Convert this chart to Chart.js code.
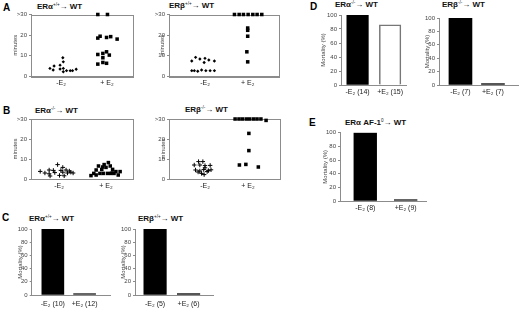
<!DOCTYPE html>
<html>
<head>
<meta charset="utf-8">
<script src="https://cdn.jsdelivr.net/npm/chart.js@4.4.0/dist/chart.umd.min.js"></script>
<style>
  body { margin: 0; width: 520px; height: 310px; background: #fff; position: relative; overflow: hidden;
         font-family: "Liberation Sans", Arial, sans-serif; }
  canvas { position: absolute; }
  .pl { position: absolute; font-weight: bold; font-size: 10px; line-height: 1; color: #000; }
  .tt { position: absolute; font-weight: bold; font-size: 8px; line-height: 1; color: #111; white-space: nowrap; }
  .tt sup { font-size: 4.5px; font-weight: normal; vertical-align: 3px; }
</style>
</head>
<body>
<div class="pl" style="left:3px;top:3px">A</div>
<div class="tt" style="left:37px;top:2.5px">ERα<sup>+/+</sup>→ WT</div>
<div class="tt" style="left:169px;top:2px">ERβ<sup>+/+</sup>→ WT</div>
<div class="pl" style="left:3px;top:106px">B</div>
<div class="tt" style="left:35px;top:106.5px">ERα<sup>-/-</sup>→ WT</div>
<div class="tt" style="left:185px;top:106px">ERβ<sup>-/-</sup>→ WT</div>
<div class="pl" style="left:2px;top:213px">C</div>
<div class="tt" style="left:29px;top:214.5px">ERα<sup>+/+</sup>→ WT</div>
<div class="tt" style="left:138px;top:214.5px">ERβ<sup>+/+</sup>→ WT</div>
<div class="pl" style="left:310px;top:2px">D</div>
<div class="tt" style="left:335px;top:0.5px">ERα<sup>-/-</sup>→ WT</div>
<div class="tt" style="left:442px;top:0.5px">ERβ<sup>-/-</sup>→ WT</div>
<div class="pl" style="left:309px;top:118px">E</div>
<div class="tt" style="left:345px;top:118.5px">ERα AF-1<sup>0</sup>→ WT</div>

<script>
// ---- values ----
const scatterCats = ['-E₂', '+ E₂'];
const minuteTicks = [0, 10, 20, 30];      // top tick is shown as ">30"

// A, ERα+/+ -> WT  (minutes; jitter = horizontal spread around the group)
const aAlphaMinus    = [3.7, 2.9, 4.9, 5.3, 3.4, 8.9, 6.9, 3.7, 2.1, 2.6, 2.6, 2.6, 3.3];
const aAlphaMinusJit = [-0.24, -0.17, -0.15, -0.02, -0.02, 0.04, 0.05, 0.05, 0.05, 0.12, 0.2, 0.25, 0.33];
const aAlphaPlus     = [30, 30, 18.5, 19.4, 18.8, 19.2, 18, 10.5, 11, 11.8, 10.2, 8.9, 5.8, 6.6, 6.2];
const aAlphaPlusJit  = [-0.2, 0.01, -0.2, -0.15, -0.01, 0.08, 0.22, -0.2, -0.09, -0.01, 0.05, -0.09, -0.2, -0.09, -0.01];

// A, ERβ+/+ -> WT
const aBetaMinus     = [7.3, 9.1, 8.3, 8.6, 6.6, 7.8, 7.3, 2.6, 2.6, 2.3, 2.9, 2.6, 2.6, 2.6];
const aBetaMinusJit  = [-0.31, -0.22, -0.12, 0, -0.02, 0.09, 0.22, -0.31, -0.25, -0.17, -0.08, 0.02, 0.12, 0.22];
const aBetaPlus      = [30, 30, 30, 30, 30, 30, 30, 23.4, 22.3, 19.4, 11.8, 6.9];
const aBetaPlusJit   = [-0.31, -0.2, -0.1, 0.01, 0.12, 0.22, 0.33, 0, 0, 0, -0.02, 0];

// B, ERα-/- -> WT
const bAlphaMinus    = [3.8, 3.0, 4.5, 2.6, 1.5, 4.3, 3.2, 7.2, 1.8, 5.8, 3.4, 1.6, 4.5, 3.0, 4.0, 3.4, 3.0, 4.3];
const bAlphaMinusJit = [-0.4, -0.3, -0.21, -0.21, -0.19, -0.12, -0.09, -0.03, 0.01, 0.08, 0.08, 0.11, 0.15, 0.18, 0.22, 0.25, 0.3, 0.04];
const bAlphaPlus     = [1.7, 2.8, 4.5, 2.0, 6.5, 2.8, 4.8, 2.8, 7.2, 5.8, 2.8, 8.2, 2.8, 4.8, 2.8, 3.7, 2.0, 3.7, 6.5, 6.0, 3.0];
const bAlphaPlusJit  = [-0.32, -0.26, -0.21, -0.21, -0.16, -0.13, -0.09, -0.06, -0.04, 0, 0.03, 0.05, 0.1, 0.14, 0.17, 0.21, 0.26, 0.3, 0.09, -0.07, 0.13];

// B, ERβ-/- -> WT
const bBetaMinus     = [8.7, 8.7, 7.0, 7.0, 6.7, 6.8, 4.5, 4.0, 4.7, 3.7, 4.2, 2.8, 2.2, 3.5, 4.6, 5.6];
const bBetaMinusJit  = [-0.15, -0.05, -0.25, -0.12, 0, 0.12, -0.22, -0.12, -0.03, 0.05, 0.08, -0.08, -0.02, -0.16, 0.14, 0];
const bBetaPlus      = [30, 30, 30, 30, 30, 30, 30, 30, 29.3, 22.8, 14.2, 7.0, 7.3, 6.0];
const bBetaPlusJit   = [-0.3, -0.21, -0.13, -0.04, 0.04, 0.13, 0.21, 0.3, 0.42, 0.02, 0.02, -0.2, -0.05, 0.24];

// C, D, E  mortality (%)
const cAlphaCats = ['-E₂ (10)', '+E₂ (12)'];  const cAlphaVals = [100, 0];
const cBetaCats  = ['-E₂ (5)', '+E₂ (6)'];    const cBetaVals  = [100, 0];
const dAlphaCats = ['-E₂ (14)', '+E₂ (15)'];  const dAlphaVals = [100, 86];
const dBetaCats  = ['-E₂ (7)', '+E₂ (7)'];    const dBetaVals  = [100, 0];
const eCats      = ['-E₂ (8)', '+E₂ (9)'];    const eVals      = [100, 0];
const mortalityTicks = [0, 20, 40, 60, 80, 100];

// ---- drawing ----
Chart.defaults.font.family = '"Liberation Sans", Arial, sans-serif';
Chart.defaults.animation = false;
const GRAY = '#8c8c8c';

// full frame round the scatter plots
const boxPlugin = {
  id: 'box',
  beforeDatasetsDraw(chart, args, opts) {
    if (!opts.on) return;
    const a = chart.chartArea, ctx = chart.ctx;
    ctx.save();
    ctx.strokeStyle = GRAY;
    ctx.lineWidth = 1;
    ctx.strokeRect(Math.round(a.left) + 0.5, Math.round(a.top) + 0.5,
                   Math.round(a.right - a.left), Math.round(a.bottom - a.top));
    ctx.restore();
  }
};

function mount(cv) {
  const el = document.createElement('canvas');
  el.width = cv[2]; el.height = cv[3];
  el.style.left = cv[0] + 'px'; el.style.top = cv[1] + 'px';
  el.style.width = cv[2] + 'px'; el.style.height = cv[3] + 'px';
  document.body.appendChild(el);
  return el;
}

// cv = canvas [left, top, w, h]; area = plot box [left, top, right, bottom] in page px
function panel(p) {
  const { cv, area } = p;
  const yw = area[0] - cv[0], xh = cv[1] + cv[3] - area[3];
  const yTicks = p.yTicks;
  return new Chart(mount(cv), {
    type: p.type,
    data: { datasets: p.datasets },
    options: {
      responsive: false,
      layout: { autoPadding: false, padding: { left: 0, top: area[1] - cv[1], right: cv[0] + cv[2] - area[2], bottom: 0 } },
      plugins: { legend: { display: false }, tooltip: { enabled: false }, box: { on: p.type === 'scatter' } },
      scales: {
        x: {
          type: 'linear', min: p.xr[0], max: p.xr[1], offset: false,
          afterFit: s => { s.height = xh; },
          afterBuildTicks: s => { s.ticks = p.cats.map((c, i) => ({ value: i + 1 })); },
          ticks: { callback: (v, i) => p.cats[i], font: { size: 7 }, color: '#222', padding: p.xPad,
                   maxRotation: 0, autoSkip: false },
          grid: { display: false, drawTicks: false, tickLength: 0 },
          border: { display: true, color: GRAY }
        },
        y: {
          min: 0, max: yTicks[yTicks.length - 1],
          afterFit: s => { s.width = yw; },
          afterBuildTicks: s => { s.ticks = yTicks.map(v => ({ value: v })); },
          ticks: { callback: p.yFmt || (v => v), font: { size: 6 }, color: '#444', padding: 2 },
          grid: { drawOnChartArea: false, tickLength: 2, color: GRAY },
          border: { display: true, color: GRAY },
          title: { display: true, text: p.yTitle, font: { size: 6 }, color: '#444',
                   padding: { top: p.yTitleX - cv[0] - 3.6, bottom: 0 } }
        }
      }
    },
    plugins: [boxPlugin]
  });
}

const pts = (vals, jit, cat) => vals.map((v, i) => ({ x: cat + jit[i], y: v }));
const dotSet = (vals, jit) => ({ data: pts(vals, jit, 1), pointStyle: 'rectRot', radius: 1.7,
  backgroundColor: '#000', borderWidth: 0, clip: false });
const crossSet = (vals, jit) => ({ data: pts(vals, jit, 1), pointStyle: 'cross', radius: 2.2,
  borderColor: '#000', borderWidth: 1, clip: false });
const squareSet = (vals, jit) => ({ data: pts(vals, jit, 2), pointStyle: 'rect', radius: 2.5,
  backgroundColor: '#000', borderWidth: 0, clip: false });
const gt30 = v => (v === 30 ? '>30' : v);

panel({ type: 'scatter', cv: [0, 4, 140, 96], area: [31, 14.5, 133, 76], xr: [0.348, 2.565], xPad: 3,
  cats: scatterCats, yTicks: minuteTicks, yFmt: gt30, yTitle: 'minutes', yTitleX: 15,
  datasets: [dotSet(aAlphaMinus, aAlphaMinusJit), squareSet(aAlphaPlus, aAlphaPlusJit)] });
panel({ type: 'scatter', cv: [145, 4, 140, 96], area: [169, 14.5, 279, 76], xr: [0.157, 2.733], xPad: 3,
  cats: scatterCats, yTicks: minuteTicks, yFmt: gt30, yTitle: 'minutes', yTitleX: 162,
  datasets: [dotSet(aBetaMinus, aBetaMinusJit), squareSet(aBetaPlus, aBetaPlusJit)] });
panel({ type: 'scatter', cv: [0, 104, 140, 96], area: [31, 119, 133, 179], xr: [0.404, 2.574], xPad: 3,
  cats: scatterCats, yTicks: minuteTicks, yFmt: gt30, yTitle: 'minutes', yTitleX: 15,
  datasets: [crossSet(bAlphaMinus, bAlphaMinusJit), squareSet(bAlphaPlus, bAlphaPlusJit)] });
panel({ type: 'scatter', cv: [145, 104, 140, 96], area: [169, 119, 280, 179], xr: [0.163, 2.744], xPad: 3,
  cats: scatterCats, yTicks: minuteTicks, yFmt: gt30, yTitle: 'minutes', yTitleX: 163,
  datasets: [crossSet(bBetaMinus, bBetaMinusJit), squareSet(bBetaPlus, bBetaPlusJit)] });

const barSet = (vals, fills, edges, width, thick) => ({
  data: vals.map((v, i) => ({ x: i + 1, y: v })),
  backgroundColor: fills, borderColor: edges, borderWidth: width,
  barThickness: thick, minBarLength: 1.5, borderSkipped: 'start'
});

panel({ type: 'bar', cv: [0, 222, 116, 88], area: [31.7, 229, 110, 295], xr: [0.334, 2.8], xPad: 5,
  cats: cAlphaCats, yTicks: mortalityTicks, yTitle: 'Mortality (%)', yTitleX: 20,
  datasets: [barSet(cAlphaVals, ['#000', '#333'], ['#000', '#333'], 0, 22)] });
panel({ type: 'bar', cv: [110, 222, 108, 88], area: [135, 229, 213, 295], xr: [0.4, 2.73], xPad: 5,
  cats: cBetaCats, yTicks: mortalityTicks, yTitle: 'Mortality (%)', yTitleX: 123,
  datasets: [barSet(cBetaVals, ['#000', '#333'], ['#000', '#333'], 0, 22.5)] });
panel({ type: 'bar', cv: [315, 8, 96, 92], area: [341, 15, 406.7, 85], xr: [0.49, 2.51], xPad: 2.5,
  cats: dAlphaCats, yTicks: mortalityTicks, yTitle: 'Mortality (%)', yTitleX: 323,
  datasets: [barSet(dAlphaVals, ['#000', '#fff'], ['#000', '#777'], [0, 1.5], 21.5)] });
panel({ type: 'bar', cv: [418, 8, 102, 92], area: [439, 18, 518, 85], xr: [0.34, 2.77], xPad: 2.5,
  cats: dBetaCats, yTicks: mortalityTicks, yTitle: 'Mortality (%)', yTitleX: 427,
  datasets: [barSet(dBetaVals, ['#000', '#333'], ['#000', '#333'], 0, 23)] });
panel({ type: 'bar', cv: [315, 125, 116, 95], area: [340, 132.7, 426.7, 201], xr: [0.375, 2.52], xPad: 3,
  cats: eCats, yTicks: mortalityTicks, yTitle: 'Mortality (%)', yTitleX: 325,
  datasets: [barSet(eVals, ['#000', '#333'], ['#000', '#333'], 0, 22.7)] });
</script>
</body>
</html>
